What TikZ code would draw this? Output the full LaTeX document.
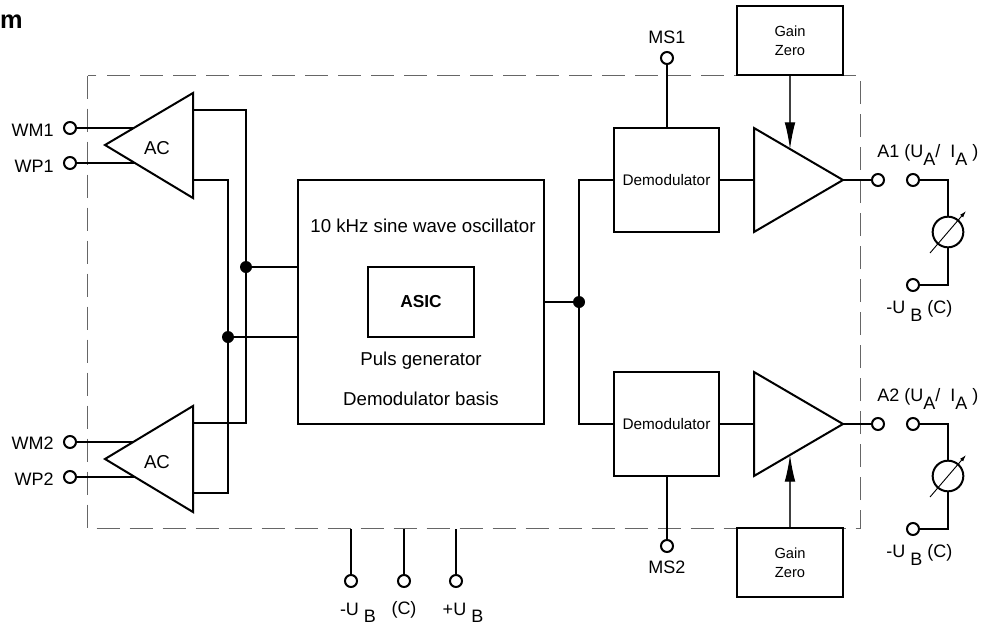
\documentclass[tikz,border=0pt]{standalone}
\usepackage{fontspec}
\setmainfont{Liberation Sans}
\usetikzlibrary{arrows.meta}
\usetikzlibrary{positioning}
\newcommand{\lowsub}[1]{\raisebox{-5.5pt}{#1}}
\tikzset{wire/.style = {line width = 1.5pt}}
\tikzset{term/.style = {draw, circle, fill = white, line width = 1.5pt, inner sep = 0, minimum size = 9pt}}
\tikzset{junc/.style = {fill, circle, inner sep = 0, minimum size = 9pt}}
\tikzset{blockbox/.style = {draw, fill = white, line width = 1.5pt, inner sep = 0, align = center}}
\tikzset{demod/.style = {blockbox, minimum width = 78.75pt, minimum height = 78pt, font = \fontsize{11.5}{13}\selectfont}}
\tikzset{gainbox/.style = {blockbox, minimum width = 79.5pt, minimum height = 51.75pt, font = \fontsize{11}{14}\selectfont}}
\tikzset{amp/.style = {draw, fill = white, line width = 1.5pt, line join = miter}}
\tikzset{lab/.style = {inner sep = 0, font = \fontsize{13.5}{16}\selectfont}}
\tikzset{gainarrow/.style = {-{Latex[length = 20pt, width = 8pt, black]}, line width = 0.9pt, black!75}}
\begin{document}
\begin{tikzpicture}[x = 0.75pt, y = -0.75pt]
  \useasboundingbox (0, 0) rectangle (990, 625);
  \node [anchor = base east, inner sep = 0, font = \fontsize{19}{22}\selectfont\bfseries] (title) at (23, 28) {m};

  % housing
  \draw [line width = 0.75pt, black!60, dash pattern = on 17.25pt off 7.5pt] (87.5, 75.5) rectangle (860, 528.5);

  % amplifier inputs
  \node [term] (wm1) at (70, 128) {};
  \node [term] (wp1) at (70, 163) {};
  \node [term] (wm2) at (70, 442) {};
  \node [term] (wp2) at (70, 477) {};
  \node [lab, anchor = east] (wm1lab) at (54, 130) {WM1};
  \node [lab, anchor = east] (wp1lab) at (54, 166) {WP1};
  \node [lab, anchor = east] (wm2lab) at (54, 443) {WM2};
  \node [lab, anchor = east] (wp2lab) at (54, 479) {WP2};
  \coordinate (ac1in) at (150, 128);
  \coordinate (ac2in) at (150, 442);
  \draw [wire] (wm1) -- (ac1in);
  \draw [wire] (wp1) -- (wp1 -| ac1in);
  \draw [wire] (wm2) -- (ac2in);
  \draw [wire] (wp2) -- (wp2 -| ac2in);

  % buses into the oscillator block
  \node [blockbox, minimum width = 184.5pt, minimum height = 183pt] (osc) at (421, 302) {};
  \node [junc] (juncu) at (246, 267) {};
  \node [junc] (juncl) at (228, 337) {};
  \coordinate (ac1u) at (193, 110);
  \coordinate (ac1l) at (193, 180);
  \coordinate (ac2u) at (193, 423);
  \coordinate (ac2l) at (193, 493);
  \draw [wire] (ac1u) -- (ac1u -| juncu) -- (ac2u -| juncu) -- (ac2u);
  \draw [wire] (ac1l) -- (ac1l -| juncl) -- (ac2l -| juncl) -- (ac2l);
  \draw [wire] (juncu) -- (juncu -| osc.west);
  \draw [wire] (juncl) -- (juncl -| osc.west);

  \draw [amp] (105, 145) -- (193, 93) -- (193, 198) -- cycle;
  \draw [amp] (105, 459) -- (193, 406) -- (193, 512) -- cycle;
  \node [lab, font = \fontsize{14}{16}\selectfont] (ac1) at (157, 148) {AC};
  \node [lab, font = \fontsize{14}{16}\selectfont] (ac2) at (157, 462) {AC};

  % oscillator block
  \node [lab, font = \fontsize{14}{16}\selectfont] (osctxt) at (423, 226) {10 kHz sine wave oscillator};
  \node [blockbox, minimum width = 79.5pt, minimum height = 52.5pt, font = \fontsize{13}{15}\selectfont\bfseries] (asic) at (421, 302) {ASIC};
  \node [lab, font = \fontsize{14}{16}\selectfont] (puls) at (421, 361) {Puls generator};
  \node [lab, font = \fontsize{14}{16}\selectfont] (basis) at (421, 399) {Demodulator basis};

  % demodulators
  \node [demod] (dem1) at (666.5, 180) {Demodulator};
  \node [demod] (dem2) at (666.5, 424) {Demodulator};
  \node [junc] (juncr) at (579, 302) {};
  \draw [wire] (osc.east |- juncr) -- (juncr);
  \draw [wire] (dem1.west) -- (dem1.west -| juncr) -- (dem2.west -| juncr) -- (dem2.west);

  \node [term] (ms1) at (667, 58) {};
  \node [term] (ms2) at (667, 546) {};
  \node [lab, above = 10pt of ms1.north, anchor = center] (ms1lab) {MS1};
  \node [lab, below = 10.5pt of ms2.south, anchor = center] (ms2lab) {MS2};
  \draw [wire] (ms1) -- (ms1 |- dem1.north);
  \draw [wire] (ms2) -- (ms2 |- dem2.south);

  % output amplifiers
  \coordinate (amp1tip) at (843, 180);
  \coordinate (amp2tip) at (843, 424);
  \node [term] (a1) at (878, 180) {};
  \node [term] (a2) at (878, 424) {};
  \draw [wire] (dem1.east) -- (amp1tip -| 760, 0);
  \draw [wire] (dem2.east) -- (amp2tip -| 760, 0);
  \draw [wire] (amp1tip) -- (a1);
  \draw [wire] (amp2tip) -- (a2);
  \draw [amp] (754, 128) -- (843, 180) -- (754, 232) -- cycle;
  \draw [amp] (754, 372) -- (843, 424) -- (754, 476) -- cycle;

  \node [gainbox] (gain1) at (790, 40.5) {Gain\\Zero};
  \node [gainbox] (gain2) at (790, 562.5) {Gain\\Zero};
  \coordinate (amp1top) at (790, 149);
  \coordinate (amp2bot) at (790, 455);
  \draw [gainarrow] (gain1.south) -- (amp1top);
  \draw [gainarrow] (gain2.north) -- (amp2bot);

  % meters
  \foreach \n/\y in {1/180, 2/424} {
    \node [term] (out\n) at (913, \y) {};
    \node [term] (ret\n) at (913, \y + 105) {};
    \node [draw, circle, line width = 1.5pt, inner sep = 0, minimum size = 23pt] (meter\n) at (948, \y + 52) {};
    \draw [wire] (out\n) -- (out\n -| meter\n) -- (meter\n.north);
    \draw [wire] (ret\n) -- (ret\n -| meter\n) -- (meter\n.south);
    \coordinate (arrfrom\n) at (930, \y + 73);
    \coordinate (arrto\n) at (966, \y + 31);
    \draw [-{Latex[length = 5pt, width = 3pt]}, line width = 0.7pt] (arrfrom\n) -- (arrto\n);
    \node [lab, anchor = west] (retlab\n) at (886, \y + 131) {-U \lowsub{B} (C)};
  }
  \node [lab, anchor = west] (a1lab) at (877, 155) {A1 (U\lowsub{A}/~ I\lowsub{A} )};
  \node [lab, anchor = west] (a2lab) at (877, 399) {A2 (U\lowsub{A}/~ I\lowsub{A} )};

  % supply
  \node [term] (neg) at (351, 581) {};
  \node [term] (com) at (404, 581) {};
  \node [term] (pos) at (456, 581) {};
  \draw [wire] (neg) -- (351, 528.5);
  \draw [wire] (com) -- (404, 528.5);
  \draw [wire] (pos) -- (456, 528.5);
  \node [lab] (neglab) at (358, 613) {-U \lowsub{B}};
  \node [lab] (comlab) at (404, 610) {(C)};
  \node [lab] (poslab) at (463, 613) {+U \lowsub{B}};
\end{tikzpicture}
\end{document}
